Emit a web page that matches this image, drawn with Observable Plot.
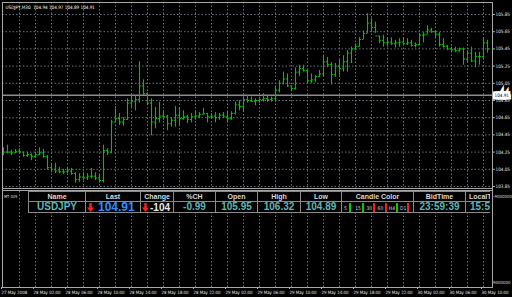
<!DOCTYPE html>
<html><head><meta charset="utf-8">
<script src="https://cdn.jsdelivr.net/npm/d3@7"></script>
<script src="https://cdn.jsdelivr.net/npm/@observablehq/plot@0.6"></script>
<style>
html,body{margin:0;padding:0;background:#000;}
#wrap{position:relative;width:512px;height:297px;overflow:hidden;background:#000;font-family:"Liberation Sans",sans-serif;}
#wrap > svg{position:absolute;left:0;top:0;}
.ov{position:absolute;white-space:nowrap;line-height:1;font-family:"DejaVu Sans Condensed","DejaVu Sans",sans-serif;}
.cell{position:absolute;box-sizing:border-box;border:1px solid #8a8a8a;display:flex;align-items:center;justify-content:center;overflow:hidden;white-space:nowrap;line-height:1;}
</style></head><body><div id="wrap"></div>
<script>
// ---- data ----
const symbolTitle = "USDJPY,M30";
const headerQuote = [104.94, 104.97, 104.89, 104.91];
const lastPrice = 104.91;
const highs = [104.30,104.33,104.27,104.28,104.29,104.25,104.25,104.23,104.25,104.30,
104.28,104.21,104.12,104.12,104.07,104.05,104.06,104.06,104.01,104.00,
104.01,104.00,104.06,104.01,103.98,104.33,104.29,104.62,104.78,104.70,
104.65,104.87,104.91,104.91,105.30,105.09,104.94,104.87,104.77,104.83,
104.73,104.68,104.65,104.78,104.77,104.73,104.68,104.70,104.73,104.71,
104.76,104.70,104.70,104.71,104.70,104.71,104.71,104.72,104.83,104.85,
104.89,104.91,104.89,104.87,104.87,104.93,104.91,104.89,105.02,105.08,
105.18,105.16,105.02,105.23,105.26,105.26,105.21,105.16,105.14,105.20,
105.37,105.35,105.29,105.28,105.32,105.37,105.43,105.47,105.51,105.58,
105.66,105.86,105.80,105.76,105.60,105.61,105.57,105.58,105.55,105.57,
105.58,105.57,105.55,105.52,105.63,105.64,105.72,105.69,105.66,105.64,
105.57,105.49,105.47,105.47,105.46,105.46,105.43,105.47,105.41,105.41,
105.57,105.55];
const lows = [104.21,104.23,104.21,104.23,104.23,104.19,104.19,104.15,104.18,104.21,
104.18,104.04,104.01,104.00,104.00,103.99,104.00,103.98,103.89,103.90,
103.92,103.92,103.94,103.92,103.89,103.89,104.21,104.23,104.59,104.56,
104.55,104.62,104.77,104.73,104.82,104.91,104.79,104.44,104.52,104.59,
104.62,104.50,104.54,104.54,104.56,104.62,104.58,104.59,104.62,104.64,
104.68,104.59,104.64,104.59,104.62,104.64,104.59,104.62,104.68,104.73,
104.71,104.82,104.83,104.79,104.82,104.83,104.83,104.83,104.83,104.94,
105.03,105.00,104.95,104.97,105.13,105.18,105.04,105.05,105.06,105.12,
105.12,105.23,105.03,105.12,105.14,105.18,105.18,105.28,105.43,105.47,
105.56,105.63,105.64,105.63,105.51,105.47,105.47,105.49,105.46,105.47,
105.49,105.49,105.47,105.46,105.50,105.52,105.62,105.63,105.58,105.47,
105.46,105.43,105.41,105.41,105.41,105.26,105.28,105.29,105.23,105.26,
105.34,105.40];
const opens = [104.27,104.25,104.25,104.24,104.26,104.25,104.21,104.22,104.20,104.22,
104.24,104.20,104.07,104.05,104.03,104.02,104.02,104.03,104.00,103.93,
103.96,103.95,103.97,103.97,103.95,103.92,104.27,104.25,104.60,104.64,
104.60,104.63,104.82,104.84,104.86,105.02,104.93,104.82,104.60,104.64,
104.67,104.66,104.58,104.62,104.68,104.64,104.66,104.63,104.66,104.67,
104.69,104.70,104.66,104.67,104.65,104.68,104.66,104.64,104.70,104.80,
104.78,104.86,104.85,104.84,104.85,104.86,104.87,104.86,104.87,104.97,
105.05,105.10,105.02,104.99,105.18,105.22,105.20,105.08,105.09,105.13,
105.16,105.30,105.27,105.15,105.25,105.22,105.30,105.40,105.45,105.48,
105.56,105.63,105.75,105.70,105.60,105.55,105.52,105.53,105.51,105.52,
105.53,105.51,105.52,105.49,105.50,105.61,105.62,105.67,105.65,105.62,
105.50,105.48,105.45,105.44,105.43,105.45,105.33,105.40,105.31,105.36,
105.36,105.52];
const closes = [104.25,104.25,104.24,104.26,104.25,104.21,104.22,104.20,104.22,104.24,
104.20,104.07,104.05,104.03,104.02,104.02,104.03,104.00,103.93,103.96,
103.95,103.97,103.97,103.95,103.92,104.27,104.25,104.60,104.64,104.60,
104.63,104.82,104.84,104.86,105.02,104.93,104.82,104.60,104.64,104.67,
104.66,104.58,104.62,104.68,104.64,104.66,104.63,104.66,104.67,104.69,
104.70,104.66,104.67,104.65,104.68,104.66,104.64,104.70,104.80,104.78,
104.86,104.85,104.84,104.85,104.86,104.87,104.86,104.87,104.97,105.05,
105.10,105.02,104.99,105.18,105.22,105.20,105.08,105.09,105.13,105.16,
105.30,105.27,105.15,105.25,105.22,105.30,105.40,105.45,105.48,105.56,
105.63,105.75,105.70,105.60,105.55,105.52,105.53,105.51,105.52,105.53,
105.51,105.52,105.49,105.50,105.61,105.62,105.67,105.65,105.62,105.50,
105.48,105.45,105.44,105.43,105.45,105.33,105.40,105.31,105.36,105.36,
105.52,105.45];
const timeLabels = ["27 May 2008","28 May 02:00","28 May 06:00","28 May 10:00","28 May 14:00",
"28 May 18:00","28 May 22:00","29 May 02:00","29 May 06:00","29 May 10:00","29 May 14:00",
"29 May 18:00","29 May 22:00","30 May 02:00","30 May 06:00","30 May 10:00"];
const barsPerLabel = 8;
const priceTicks = [103.85,104.05,104.25,104.45,104.65,104.85,105.05,105.25,105.45,105.65,105.85];
const subLabels = ["-9000000","9000000"];
const subName = "MT 005";
const tableHeaders = ["Name","Last","Change","%CH","Open","High","Low","Candle Color","BidTime","LocalTime"];
const tableValues  = ["USDJPY","104.91","-104","-0.99","105.95","106.32","104.89","","23:59:39","15:54:12"];
const candleTF  = ["5","15","30","60","H4","D1"];
const candleDir = ["up","up","down","down","up","down"];

// ---- chart ----
const bars = highs.map((h,i)=>({i, high:h, low:lows[i], open:opens[i], close:closes[i]}));
const n = bars.length;
const xTicks = timeLabels.map((_,k)=>k*barsPerLabel);
const gridX = d3.range(4, n, 4);
const green = "#00c000";
const gridStroke = "#66727f";
const smallFont = "DejaVu Sans Condensed, DejaVu Sans, sans-serif";

const chart = Plot.plot({
  width: 512, height: 297,
  marginTop: 2, marginBottom: 10, marginLeft: 2, marginRight: 20,
  style: {background:"#000", color:"#e6e6e6", fontFamily:smallFont, fontSize:"4.6px"},
  x: {type:"linear", domain:[0, n-1], range:[3, 487]},
  y: {type:"linear", domain:[103.85, 105.85], range:[186, 14]},
  marks: [
    Plot.ruleY(priceTicks, {stroke:gridStroke, strokeDasharray:"1.5,2", strokeWidth:1}),
    Plot.ruleX(gridX, {stroke:gridStroke, strokeDasharray:"1.5,2", strokeWidth:1}),
    Plot.ruleY([lastPrice], {stroke:"#8c8c8c", strokeWidth:1.5}),
    Plot.ruleX(bars, {x:"i", y1:"low", y2:"high", stroke:green, strokeWidth:1.1}),
    Plot.link(bars, {x1:d=>d.i-0.4, x2:"i", y1:"open", y2:"open", stroke:green, strokeWidth:1}),
    Plot.link(bars, {x1:"i", x2:d=>d.i+0.4, y1:"close", y2:"close", stroke:green, strokeWidth:1}),
    Plot.axisY(priceTicks, {anchor:"right", tickSize:2, tickPadding:1, stroke:"#aaa",
      tickFormat:d=>d.toFixed(2), fill:"#e6e6e6", fontSize:4.6, label:null}),
    Plot.text([lastPrice], {y:d=>d, text:d=>d.toFixed(2), frameAnchor:"right", textAnchor:"start", dx:2,
      fill:"#000", stroke:"#fff", strokeWidth:5, strokeLinejoin:"miter", fontSize:4.6}),
    Plot.axisX(xTicks, {anchor:"bottom", tickSize:2, tickPadding:1, stroke:"#aaa",
      tickFormat:d=>timeLabels[d/barsPerLabel], textAnchor:"start", dx:-2, fill:"#e6e6e6", fontSize:4.4, label:null}),
    Plot.text([`${symbolTitle}  ${headerQuote.map(v=>v.toFixed(2)).join(" ")}`], {frameAnchor:"top-left", dx:3, dy:3,
      fill:"#fff", fontSize:4.6, textAnchor:"start"}),
    Plot.frame({stroke:"#a8a8a8"})
  ]
});
const wrap = document.getElementById("wrap");
wrap.appendChild(chart);

// subwindow separator
const svg = d3.select(chart);
svg.append("line").attr("x1",2).attr("x2",492).attr("y1",188.5).attr("y2",188.5).attr("stroke","#a8a8a8");
svg.append("line").attr("x1",2).attr("x2",492).attr("y1",190.5).attr("y2",190.5).attr("stroke","#a8a8a8");

function ov(text, left, top, css){
  const d = document.createElement("div");
  d.className = "ov"; d.textContent = text;
  d.style.left = left+"px"; d.style.top = top+"px";
  Object.assign(d.style, css||{});
  wrap.appendChild(d); return d;
}
ov(subName, 4, 195, {fontSize:"4px", color:"#ddd"});
ov(subLabels[0], 493, 195, {fontSize:"4.4px", color:"#ddd"});
ov(subLabels[1], 493, 281, {fontSize:"4.4px", color:"#ddd"});

// ---- table ----
const arrowSvg = (left) => `<svg width="7" height="9" viewBox="0 0 7 9" style="position:absolute;left:${left}px;top:1px"><path d="M2.3 0 H4.7 V4.5 H7 L3.5 9 L0 4.5 H2.3 Z" fill="#ff1e1e"/></svg>`;
const colEdges = [28,85,140,173,215,257,300,341,413,465,540];
const clip = document.createElement("div");
Object.assign(clip.style,{position:"absolute",left:"0px",top:"0px",width:"490px",height:"297px",overflow:"hidden"});
wrap.appendChild(clip);
const teal = "#5fb4b4";
tableHeaders.forEach((h,k)=>{
  const x0 = colEdges[k], w = colEdges[k+1]-colEdges[k]+1;
  const hc = document.createElement("div");
  hc.className="cell";
  Object.assign(hc.style,{left:x0+"px",top:"191px",width:w+"px",height:"11px",background:"#000",
    color:"#d8d8d8",fontSize:"7px",fontWeight:"bold"});
  hc.textContent = h;
  if(k===9){hc.style.justifyContent="flex-start";hc.style.paddingLeft="3px";}
  clip.appendChild(hc);
  const vc = document.createElement("div");
  vc.className="cell";
  Object.assign(vc.style,{left:x0+"px",top:"201px",width:w+"px",height:"12px",background:"#000",
    color:teal,fontSize:"10px",fontWeight:"bold"});
  if(k===1){
    vc.innerHTML = arrowSvg(1) + `<span style="color:#2f8fff;font-size:12px;position:absolute;left:12px;top:-1px">${tableValues[1]}</span>`;
  } else if(k===2){
    vc.innerHTML = arrowSvg(1) + `<span style="color:#e8e8e8;position:absolute;left:9px;top:1px">${tableValues[2]}</span>`;
  } else if(k===7){
    candleTF.forEach((tf,j)=>{
      const lab = document.createElement("span");
      lab.textContent = tf;
      Object.assign(lab.style,{position:"absolute",left:(2+j*11.2)+"px",top:"4px",fontSize:"5px",color:"#d0d0d0",fontWeight:"normal",fontFamily:"DejaVu Sans Condensed"});
      vc.appendChild(lab);
      const b = document.createElement("span");
      Object.assign(b.style,{position:"absolute",left:(2+j*11.2+(tf.length>1?7:5))+"px",top:"1px",width:"2px",height:"9px",
        background: candleDir[j]==="up" ? "#00d000" : "#ff1a1a"});
      vc.appendChild(b);
    });
  } else {
    vc.textContent = tableValues[k];
    if(k===9){vc.style.justifyContent="flex-start";vc.style.paddingLeft="4px";}
  }
  clip.appendChild(vc);
});
</script></body></html>
